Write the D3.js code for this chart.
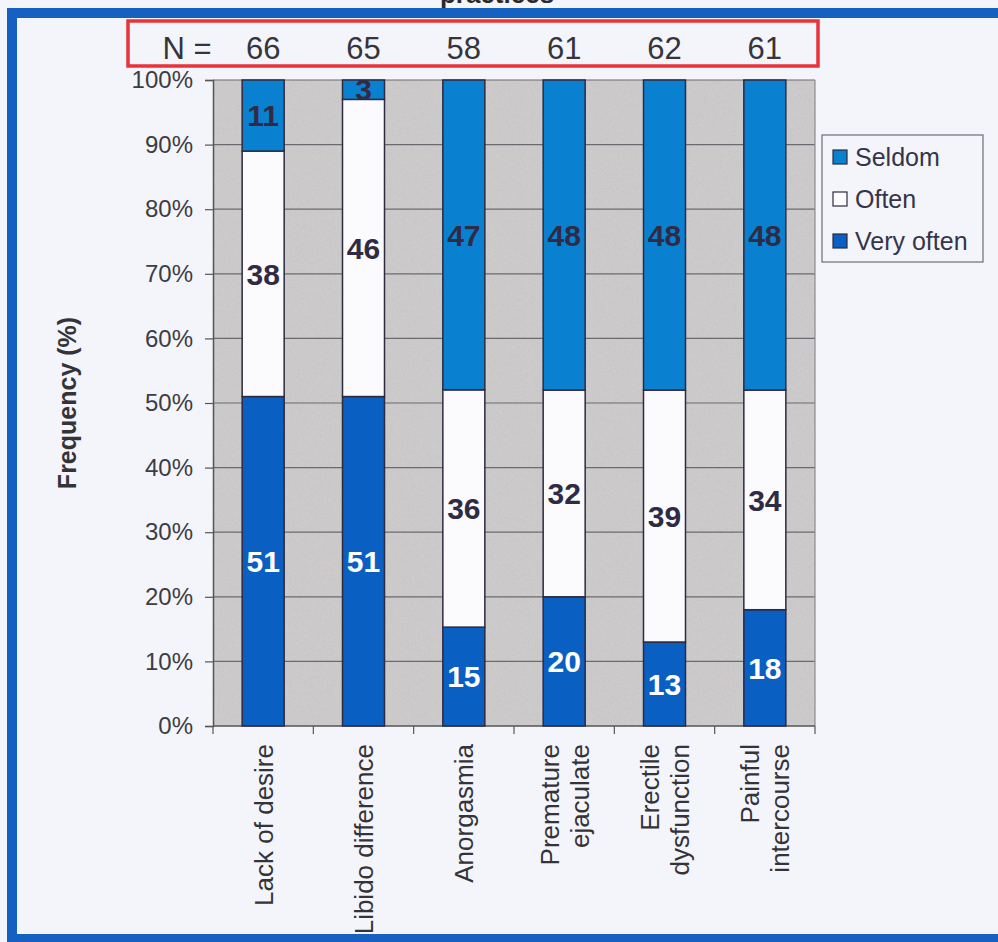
<!DOCTYPE html>
<html>
<head>
<meta charset="utf-8">
<script src="https://cdn.jsdelivr.net/npm/d3@7/dist/d3.min.js"></script>
<style>
  html, body { margin: 0; padding: 0; background: #f4f4fb; }
  svg { display: block; }
  text { font-family: Arial, "Liberation Sans", Helvetica, sans-serif; }
</style>
</head>
<body>
<script>
// Problems reported, by frequency (counts per category)
const categories = ["Lack of desire", "Libido difference", "Anorgasmia",
                    "Premature ejaculate", "Erectile dysfunction", "Painful intercourse"];
const labelLines = [["Lack of desire"], ["Libido difference"], ["Anorgasmia"],
                    ["Premature", "ejaculate"], ["Erectile", "dysfunction"], ["Painful", "intercourse"]];
const sampleN   = [66, 65, 58, 61, 62, 61];
const veryOften = [51, 51, 15, 20, 13, 18];
const often     = [38, 46, 36, 32, 39, 34];
const seldom    = [11, 3, 47, 48, 48, 48];
const seriesNames = ["Very often", "Often", "Seldom"];
const yTicks = [0, 10, 20, 30, 40, 50, 60, 70, 80, 90, 100];

const W = 998, H = 942;
const plot = { left: 213, right: 815, top: 80, bottom: 726 };

const colors = { "Very often": "#0a5fc3", "Often": "#fbfbfe", "Seldom": "#0a80d0" };
const labelColors = { "Very often": "#ffffff", "Often": "#2f2b45", "Seldom": "#2f2b45" };

const svg = d3.select("body").append("svg").attr("width", W).attr("height", H);

// Page and frame
svg.append("rect").attr("width", W).attr("height", H).attr("fill", "#f4f4fb");
svg.append("rect")
  .attr("x", 12).attr("y", 13).attr("width", 1000).attr("height", 926)
  .attr("fill", "#f4f4fb").attr("stroke", "#1561c1").attr("stroke-width", 10);

// Title (runs off the top edge)
svg.append("text")
  .attr("x", 497).attr("y", 3)
  .attr("text-anchor", "middle")
  .attr("font-size", 26).attr("font-weight", "bold").attr("fill", "#2a2a2a")
  .text("practices");

// Scales
const x = d3.scaleBand().domain(categories).range([plot.left, plot.right]).paddingInner(0).paddingOuter(0);
const y = d3.scaleLinear().domain([0, 100]).range([plot.bottom, plot.top]);
const barW = 42;

// Plot background with a fine grain
const defs = svg.append("defs");
const f = defs.append("filter").attr("id", "grain").attr("x", 0).attr("y", 0).attr("width", 1).attr("height", 1);
f.append("feTurbulence").attr("type", "fractalNoise").attr("baseFrequency", 1.4).attr("numOctaves", 1).attr("seed", 3).attr("result", "n");
f.append("feColorMatrix").attr("in", "n").attr("type", "matrix")
  .attr("values", "0 0 0 0 0.5  0 0 0 0 0.5  0 0 0 0 0.5  1.4 0 0 0 -0.55");
svg.append("rect")
  .attr("x", plot.left).attr("y", plot.top)
  .attr("width", plot.right - plot.left).attr("height", plot.bottom - plot.top)
  .attr("fill", "#cdcbcb");
svg.append("rect")
  .attr("x", plot.left).attr("y", plot.top)
  .attr("width", plot.right - plot.left).attr("height", plot.bottom - plot.top)
  .attr("filter", "url(#grain)").attr("opacity", 0.7);

// Horizontal gridlines
svg.append("g").selectAll("line").data(yTicks.filter(t => t > 0)).join("line")
  .attr("x1", plot.left).attr("x2", plot.right)
  .attr("y1", d => y(d)).attr("y2", d => y(d))
  .attr("stroke", "#6b6a70").attr("stroke-width", 1.2);
svg.append("line")
  .attr("x1", plot.right).attr("x2", plot.right).attr("y1", plot.top).attr("y2", plot.bottom)
  .attr("stroke", "#8a8a90").attr("stroke-width", 1.2);

// Y axis
const yAxis = d3.axisLeft(y).tickValues(yTicks).tickFormat(d => d + "%").tickSize(8).tickPadding(12);
const gy = svg.append("g").attr("transform", `translate(${plot.left},0)`).call(yAxis);
gy.select(".domain").attr("stroke", "#555").attr("stroke-width", 1.5);
gy.selectAll(".tick line").attr("stroke", "#555").attr("stroke-width", 1.2);
gy.selectAll(".tick text").attr("font-size", 24).attr("fill", "#3c3c44")
  .attr("font-family", "Arial, 'Liberation Sans', sans-serif");

// X axis baseline with ticks at category boundaries
const boundaries = categories.map(c => x(c)).concat([plot.right]);
svg.append("line")
  .attr("x1", plot.left).attr("x2", plot.right).attr("y1", plot.bottom).attr("y2", plot.bottom)
  .attr("stroke", "#555").attr("stroke-width", 1.5);
svg.append("g").selectAll("line").data(boundaries).join("line")
  .attr("x1", d => d).attr("x2", d => d)
  .attr("y1", plot.bottom).attr("y2", plot.bottom + 8)
  .attr("stroke", "#555").attr("stroke-width", 1.2);

// Stacked, normalised to 100%
const table = categories.map((c, i) => ({
  category: c, "Very often": veryOften[i], "Often": often[i], "Seldom": seldom[i]
}));
const stacked = d3.stack().keys(seriesNames).offset(d3.stackOffsetExpand)(table);

const layers = svg.append("g").selectAll("g").data(stacked).join("g")
  .attr("fill", s => colors[s.key]);
layers.selectAll("rect").data(s => s).join("rect")
  .attr("x", d => x(d.data.category) + (x.bandwidth() - barW) / 2)
  .attr("y", d => y(d[1] * 100))
  .attr("width", barW)
  .attr("height", d => y(d[0] * 100) - y(d[1] * 100))
  .attr("stroke", "#2e2a40").attr("stroke-width", 1.5);

// Segment value labels
svg.append("g").selectAll("g").data(stacked).join("g")
  .attr("fill", s => labelColors[s.key])
  .selectAll("text").data(s => s.map(d => ({ d, key: s.key }))).join("text")
  .attr("x", o => x(o.d.data.category) + x.bandwidth() / 2)
  .attr("y", o => (y(o.d[0] * 100) + y(o.d[1] * 100)) / 2)
  .attr("dy", "0.36em")
  .attr("text-anchor", "middle")
  .attr("font-size", 30).attr("font-weight", "bold")
  .text(o => o.d.data[o.key]);

// X category labels (rotated)
const xl = svg.append("g").selectAll("text").data(categories).join("text")
  .attr("transform", c => `translate(${x(c) + x.bandwidth() / 2},${plot.bottom + 18}) rotate(-90)`)
  .attr("text-anchor", "end")
  .attr("font-size", 26).attr("fill", "#333338");
xl.each(function (c, i) {
  const lines = labelLines[i];
  const lh = 30;
  const start = -(lines.length - 1) * lh / 2;
  d3.select(this).selectAll("tspan").data(lines).join("tspan")
    .attr("x", 0)
    .attr("y", (l, j) => start + j * lh)
    .attr("dy", "0.36em")
    .text(l => l);
});

// Y axis title
svg.append("text")
  .attr("transform", `translate(76,${(plot.top + plot.bottom) / 2}) rotate(-90)`)
  .attr("text-anchor", "middle")
  .attr("font-size", 25).attr("font-weight", "bold").attr("fill", "#333338")
  .text("Frequency (%)");

// Sample sizes above bars
svg.append("rect")
  .attr("x", 128).attr("y", 21).attr("width", 690).attr("height", 45)
  .attr("fill", "none").attr("stroke", "#e8323c").attr("stroke-width", 3.5);
svg.append("text")
  .attr("x", 187).attr("y", 59).attr("text-anchor", "middle")
  .attr("font-size", 31).attr("fill", "#35343c")
  .text("N =");
svg.append("g").selectAll("text").data(sampleN).join("text")
  .attr("x", (n, i) => x(categories[i]) + x.bandwidth() / 2)
  .attr("y", 59).attr("text-anchor", "middle")
  .attr("font-size", 31).attr("fill", "#35343c")
  .text(n => n);

// Legend
const legend = svg.append("g");
legend.append("rect")
  .attr("x", 822).attr("y", 135).attr("width", 161).attr("height", 127)
  .attr("fill", "#f4f4fb").attr("stroke", "#6d6d75").attr("stroke-width", 1.2);
const legendOrder = ["Seldom", "Often", "Very often"];
const li = legend.selectAll("g.item").data(legendOrder).join("g")
  .attr("class", "item")
  .attr("transform", (k, i) => `translate(833,${157 + i * 42})`);
li.append("rect")
  .attr("x", 0).attr("y", -7).attr("width", 14).attr("height", 14)
  .attr("fill", k => colors[k]).attr("stroke", "#2e2a40").attr("stroke-width", 1.2);
li.append("text")
  .attr("x", 22).attr("y", 0).attr("dy", "0.36em")
  .attr("font-size", 25).attr("fill", "#35344a")
  .text(k => k);
</script>
</body>
</html>
